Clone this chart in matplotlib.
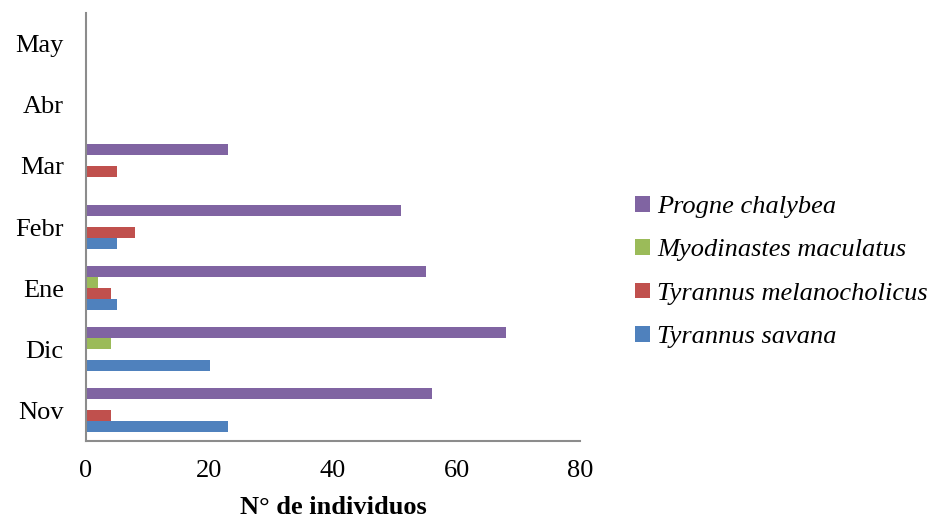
import matplotlib
matplotlib.use("Agg")
import matplotlib.pyplot as plt
import numpy as np

categories = ["Nov", "Dic", "Ene", "Febr", "Mar", "Abr", "May"]
tyrannus_savana = [23, 20, 5, 5, 0, 0, 0]
tyrannus_melanocholicus = [4, 0, 4, 8, 5, 0, 0]
myodinastes_maculatus = [0, 4, 2, 0, 0, 0, 0]
progne_chalybea = [56, 68, 55, 51, 23, 0, 0]

series = [
    ("Tyrannus savana", tyrannus_savana, "#4F81BD"),
    ("Tyrannus melanocholicus", tyrannus_melanocholicus, "#C0504D"),
    ("Myodinastes maculatus", myodinastes_maculatus, "#9BBB59"),
    ("Progne chalybea", progne_chalybea, "#8064A2"),
]

plt.rcParams['font.family'] = ['Liberation Serif', 'DejaVu Serif']

fig = plt.figure(figsize=(9.35, 5.22), dpi=100)
ax = fig.add_axes([86/935, 1-441/522, (580-86)/935, (441-13)/522])

y = np.arange(len(categories))
h = 0.18
offsets = [-1.5*h, -0.5*h, 0.5*h, 1.5*h]
handles = []
for (name, vals, col), off in zip(series, offsets):
    b = ax.barh(y + off, vals, height=h, color=col, label=name)
    handles.append(b)

ax.set_xlim(0, 80)
ax.set_ylim(-0.5, len(categories) - 0.5)
ax.set_xticks([0, 20, 40, 60, 80])
ax.set_yticks(y)
ax.set_yticklabels(categories)
ax.tick_params(axis='both', length=0, labelsize=19)
ax.tick_params(axis='x', pad=14)
ax.tick_params(axis='y', pad=16)
for s in ['top', 'right']:
    ax.spines[s].set_visible(False)
for s in ['left', 'bottom']:
    ax.spines[s].set_color('#8c8c8c')
    ax.spines[s].set_linewidth(1.5)
ax.set_xlabel("N° de individuos", fontsize=19, fontweight='bold', labelpad=10)

leg = fig.legend(handles[::-1], [s[0] for s in series][::-1],
                 loc='center left', bbox_to_anchor=(630/935, 1-272/522),
                 frameon=False, prop={'style': 'italic', 'size': 19},
                 handlelength=0.55, handleheight=0.55, handletextpad=0.28,
                 labelspacing=0.8, borderaxespad=0, borderpad=0.2)

fig.savefig("out.png", dpi=100)
